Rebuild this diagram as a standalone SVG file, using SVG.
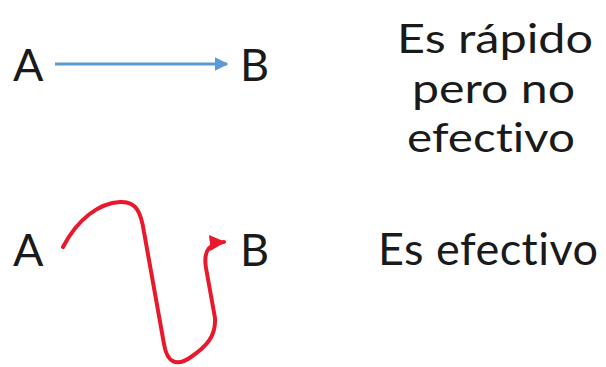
<svg xmlns="http://www.w3.org/2000/svg" width="606" height="367" viewBox="0 0 606 367">
  <style>
    .lbl { font-family: Lato, "Open Sans", sans-serif; fill: #1a1a1a; font-variant-ligatures: none; }
    .node { font-size: 45px; }
    .note { font-size: 40.5px; text-anchor: middle; }
    .note-big { font-size: 45px; text-anchor: middle; }
  </style>
  <defs>
    <marker id="headBlue" viewBox="0 0 10 10" refX="9" refY="5" markerWidth="4.5" markerHeight="4.5" orient="auto" markerUnits="strokeWidth">
      <path d="M0 0 L10 5 L0 10 Z" fill="#5b9bd5"/>
    </marker>
    <marker id="headRed" viewBox="0 0 10 10" refX="9" refY="5" markerWidth="4" markerHeight="4" orient="auto" markerUnits="strokeWidth">
      <path d="M0 0 L10 5 L0 10 Z" fill="#e8192c"/>
    </marker>
  </defs>
  <rect width="606" height="367" fill="#ffffff"/>

  <g id="node-a1"><text class="lbl node" x="13" y="81">A</text></g>
  <g id="node-b1"><text class="lbl node" x="240" y="81">B</text></g>
  <g id="node-a2"><text class="lbl node" x="13" y="266">A</text></g>
  <g id="node-b2"><text class="lbl node" x="240" y="266">B</text></g>

  <g id="connectors" fill="none">
    <line x1="55" y1="64" x2="227" y2="64" stroke="#5b9bd5" stroke-width="3" marker-end="url(#headBlue)"/>
    <path d="M63 247 C78 218, 100 203, 120 202 C136 201, 141 212, 144 232 L164 344 C167 363, 177 367, 191 357 C207 346, 216 336, 215 318 L206 268 C203 250, 210 243, 224 242" stroke="#e8192c" stroke-width="4" stroke-linecap="round" stroke-linejoin="round" marker-end="url(#headRed)"/>
  </g>

  <g id="note-fast">
    <text class="lbl note"><tspan x="495" y="53" textLength="196" lengthAdjust="spacingAndGlyphs">Es rápido</tspan><tspan x="493.5" y="103" textLength="163" lengthAdjust="spacingAndGlyphs">pero no</tspan><tspan x="491" y="152" textLength="168" lengthAdjust="spacingAndGlyphs">efectivo</tspan></text>
  </g>
  <g id="note-effective"><text class="lbl note-big" x="488" y="265" textLength="220" lengthAdjust="spacing">Es efectivo</text></g>
</svg>
